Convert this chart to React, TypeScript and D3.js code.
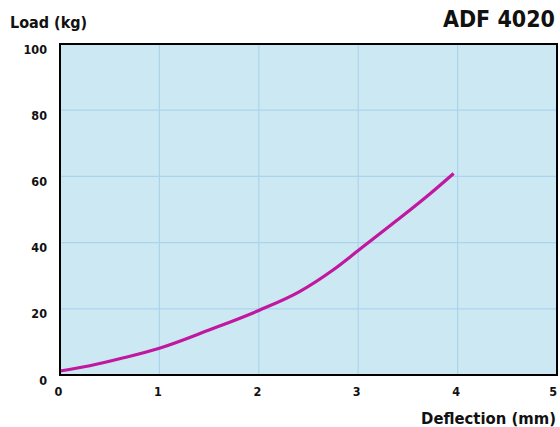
import React from "react";
import * as d3 from "d3";

const deflection = [0, 0.3, 0.64, 1, 1.5, 2, 2.41, 2.75, 3, 3.38, 3.72, 3.96];
const load = [1.2, 2.8, 5.2, 8.1, 13.6, 19.5, 25.2, 31.8, 37.6, 46.5, 54.7, 60.9];
const xTicks = [0, 1, 2, 3, 4, 5];
const yTicks = [0, 20, 40, 60, 80, 100];
const title = "ADF 4020";
const xLabel = "Deflection (mm)";
const yLabel = "Load (kg)";

export default function App() {
  const W = 560, H = 427;
  const left = 60, right = 557, top = 44, bottom = 375;
  const x = d3.scaleLinear().domain([0, 5]).range([left, right]);
  const y = d3.scaleLinear().domain([0, 100]).range([bottom, top]);
  const pts = deflection.map((d, i) => [d, load[i]] as [number, number]);
  const line = d3.line<[number, number]>().x(d => x(d[0])).y(d => y(d[1])).curve(d3.curveMonotoneX);
  const font = "'DejaVu Sans Condensed', 'DejaVu Sans', sans-serif";
  return (
    <div style={{ position: "fixed", left: 0, top: 0 }}>
      <svg width={W} height={H} style={{ display: "block", fontFamily: font }}>
        <rect x={0} y={0} width={W} height={H} fill="#fff" />
        <rect x={left} y={top} width={right - left} height={bottom - top} fill="#cce9f3" />
        {xTicks.slice(1, -1).map(t => (
          <line key={"gx" + t} x1={x(t)} x2={x(t)} y1={top} y2={bottom} stroke="#acd3ee" strokeWidth={1.2} />
        ))}
        {yTicks.slice(1, -1).map(t => (
          <line key={"gy" + t} x1={left} x2={right} y1={y(t)} y2={y(t)} stroke="#acd3ee" strokeWidth={1.2} />
        ))}
        <path d={line(pts) || ""} fill="none" stroke="#c0189f" strokeWidth={3.2} strokeLinecap="butt" />
        <rect x={left} y={top} width={right - left} height={bottom - top} fill="none" stroke="#000" strokeWidth={2} />
        {yTicks.map(t => (
          <text key={"yt" + t} x={47} y={y(t) + 9.5} textAnchor="end" fontSize={12.5} fontWeight="bold" fill="#111">{t}</text>
        ))}
        {xTicks.map((t, i) => (
          <text key={"xt" + t} x={i === xTicks.length - 1 ? x(t) : x(t) - 1.5} y={396} textAnchor={i === xTicks.length - 1 ? "end" : "middle"} fontSize={12.5} fontWeight="bold" fill="#111">{t}</text>
        ))}
        <text x={10} y={28} fontSize={16} fontWeight="bold" fill="#111">{yLabel}</text>
        <text x={555} y={27} textAnchor="end" fontSize={23} fontWeight="bold" fill="#111">{title}</text>
        <text x={556} y={424} textAnchor="end" fontSize={16.5} fontWeight="bold" fill="#111">{xLabel}</text>
      </svg>
    </div>
  );
}
